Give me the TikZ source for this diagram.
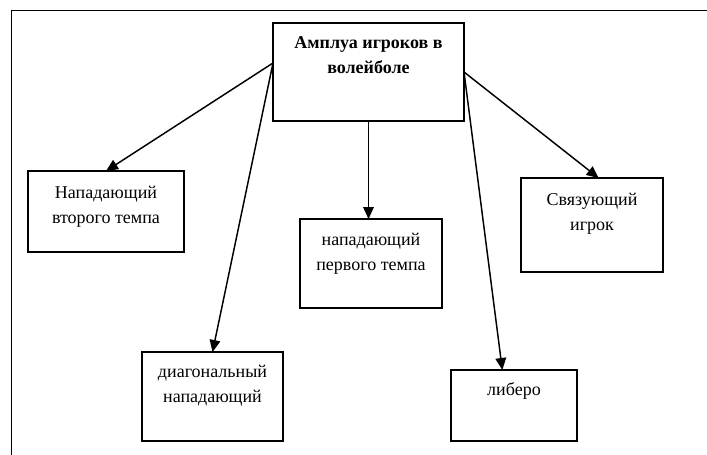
\documentclass[tikz,border=0pt]{standalone}
\usepackage{fontspec}
\setmainfont{Liberation Serif}
\usetikzlibrary{arrows.meta,fit}
\begin{document}
\begin{tikzpicture}[x=0.75pt,y=-0.75pt,
  box/.style={draw, line width=1pt, inner sep=0pt, outer sep=0pt, rectangle},
  lbl/.style={align=center, inner sep=0pt, anchor=base, font=\fontsize{13.5pt}{18.75pt}\selectfont},
  arr/.style={line width=1.1pt, -{Triangle[length=9pt,width=8pt]}},
  frame/.style={line width=1.2pt}]
\useasboundingbox (0,0) rectangle (707,454);
% outer frame (cropped at right and bottom)
\draw[frame] (11.5,455) -- (11.5,10.5) -- (708,10.5);
% boxes
\node[box, fit={(273,23) (464,121)}] (top) {};
\node[box, fit={(28,171) (184,252)}] (bsec) {};
\node[box, fit={(300,219) (442,308)}] (bfirst) {};
\node[box, fit={(521,178) (663,272)}] (bset) {};
\node[box, fit={(142,352) (283,441)}] (bdiag) {};
\node[box, fit={(451,370) (577,441)}] (blib) {};
% texts (base anchor = baseline of the last line)
\node[lbl] (ttop) at (368.5,73) {\textbf{Амплуа игроков в}\\\textbf{волейболе}};
\node[lbl] (tsec) at (106,223) {Нападающий\\второго темпа};
\node[lbl] (tfirst) at (371,270) {нападающий\\первого темпа};
\node[lbl] (tset) at (592,230) {Связующий\\игрок};
\node[lbl] (tdiag) at (212.5,402) {диагональный\\нападающий};
\node[lbl] (tlib) at (514,395) {либеро};
% connectors
\draw[arr] ([yshift=6.75pt]top.west) -- (bsec.north);
\draw[arr] ([yshift=6.75pt]top.west) -- (bdiag.north);
\draw[arr] (top.south) -- (top.south |- bfirst.north);
\draw[arr] (top.east) -- ([xshift=5pt]bset.north);
\draw[arr] (top.east) -- ([xshift=-8.75pt]blib.north);
\end{tikzpicture}
\end{document}
